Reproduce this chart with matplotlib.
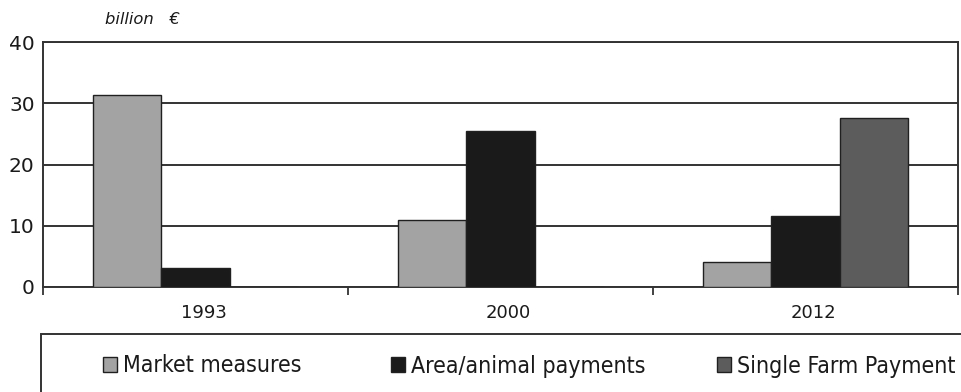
import matplotlib
matplotlib.use("Agg")
import matplotlib.pyplot as plt
from matplotlib.patches import Rectangle, Patch
from matplotlib.transforms import ScaledTranslation
import numpy as np

# Data: EU CAP expenditure by instrument (billion €)
years = ["1993", "2000", "2012"]
series_names = ["Market measures", "Area/animal payments", "Single Farm Payment"]
market_measures = [31.3, 10.9, 4.1]
area_animal_payments = [3.1, 25.5, 11.6]
single_farm_payment = [0.0, 0.0, 27.6]
y_ticks = [0, 10, 20, 30, 40]

colors = ["#a3a3a3", "#1a1a1a", "#5c5c5c"]
line_col = "#333333"
text_col = "#1a1a1a"

W, H = 961, 392
fig = plt.figure(figsize=(W / 100, H / 100), dpi=100)
ax = fig.add_axes([43 / W, 1 - 287 / H, (958 - 43) / W, (287 - 42) / H])

x = np.arange(len(years))
width = 0.223
all_series = [market_measures, area_animal_payments, single_farm_payment]
for i, (vals, col) in enumerate(zip(all_series, colors)):
    ax.bar(x + (i - 1) * width, vals, width=width, color=col,
           edgecolor="#202020", linewidth=1.0, zorder=3)

ax.set_xlim(-0.5, len(years) - 0.5)
ax.set_ylim(0, 40)
ax.set_yticks(y_ticks)
ax.set_yticklabels([str(t) for t in y_ticks], fontsize=14.5, color=text_col)
ax.yaxis.grid(True, color=line_col, linewidth=1.4, zorder=0)
ax.set_axisbelow(True)

# Category boundaries as ticks, year labels centred in between
ax.set_xticks(np.arange(-0.5, len(years), 1.0))
ax.set_xticklabels([])
ax.set_xticks(x, minor=True)
ax.set_xticklabels(years, minor=True, fontsize=13, color=text_col)
ax.tick_params(axis="x", which="major", direction="out", length=6,
               width=1.3, color=line_col)
ax.tick_params(axis="x", which="minor", length=0, pad=12.5)
ax.tick_params(axis="y", length=0, pad=6)

# year labels sit slightly right of the group centres
shift = ScaledTranslation(8 / 100, 0, fig.dpi_scale_trans)
for lbl in ax.get_xticklabels(minor=True):
    lbl.set_transform(lbl.get_transform() + shift)

for side in ["left", "right", "bottom", "top"]:
    ax.spines[side].set_color(line_col)
    ax.spines[side].set_linewidth(1.4)

fig.text(105 / W, 1 - 20 / H, "billion   €", fontsize=11.8, style="italic",
         color=text_col, va="center", ha="left")

# Legend frame running off the lower right edge
frame = Rectangle((41 / W, -0.2), 1.0, (1 - 334 / H) + 0.2,
                  transform=fig.transFigure, facecolor="white",
                  edgecolor=line_col, linewidth=1.4, clip_on=False)
fig.add_artist(frame)

handle_x = [103, 391, 717]
leg_y = 1 - 366 / H
for name, col, hx in zip(series_names, colors, handle_x):
    h = Patch(facecolor=col, edgecolor="#202020", linewidth=1.0)
    leg = fig.legend([h], [name], loc="center left",
                     bbox_to_anchor=(hx / W, leg_y), frameon=False,
                     borderpad=0, borderaxespad=0, handlelength=0.6,
                     handleheight=0.6, handletextpad=0.25,
                     prop={"family": "DejaVu Sans", "stretch": "condensed",
                           "size": 16.6})
    for t in leg.get_texts():
        t.set_color(text_col)

fig.savefig("out.png", dpi=100)
